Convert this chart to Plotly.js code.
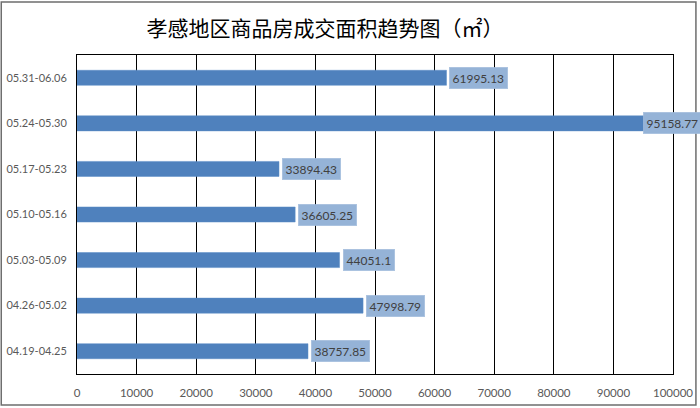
<!DOCTYPE html>
<html>
<head>
<meta charset="utf-8">
<script src="https://cdn.plot.ly/plotly-3.0.1.min.js"></script>
<style>html,body{margin:0;padding:0;background:#fff;}#chart{width:700px;height:408px;}</style>
</head>
<body>
<div id="chart"></div>
<script>
const weeks = ["04.19-04.25","04.26-05.02","05.03-05.09","05.10-05.16","05.17-05.23","05.24-05.30","05.31-06.06"];
const areas = [38757.85, 47998.79, 44051.1, 36605.25, 33894.43, 95158.77, 61995.13];
const areaLabels = ["38757.85","47998.79","44051.1","36605.25","33894.43","95158.77","61995.13"];
const xTicks = [0,10000,20000,30000,40000,50000,60000,70000,80000,90000,100000];

const trace = {
  type: 'bar',
  orientation: 'h',
  x: areas,
  y: weeks,
  marker: {color: '#4F81BD', line: {color: '#5B8CC6', width: 0.5}},
  hoverinfo: 'skip'
};

const annotations = areas.map((v, i) => ({
  x: v, y: weeks[i], xref: 'x', yref: 'y',
  text: areaLabels[i], showarrow: false,
  xanchor: 'left', yanchor: 'middle', xshift: i === 5 ? -1 : 3,
  bgcolor: '#95B3D7', borderpad: 3, bordercolor: '#A7C0DE', borderwidth: 0.5,
  font: {family: 'Lato, "Open Sans", sans-serif', size: 12, color: '#404040'}
}));

const layout = {
  width: 700, height: 408,
  margin: {l: 77, r: 27, t: 55, b: 34},
  paper_bgcolor: '#ffffff', plot_bgcolor: '#ffffff',
  showlegend: false,
  bargap: 0.67,
  title: {
    text: '孝感地区商品房成交面积趋势图（㎡）',
    x: 325/700, xanchor: 'center', xref: 'container',
    y: 1 - 29/408, yanchor: 'middle', yref: 'container',
    font: {family: '"Noto Sans CJK SC", sans-serif', size: 21, color: '#000000'}
  },
  xaxis: {
    range: [0, 100000], tickvals: xTicks, ticktext: xTicks.map(String),
    showgrid: true, gridcolor: '#000000', gridwidth: 1,
    showline: true, linecolor: '#000000', linewidth: 1, mirror: true,
    zeroline: false, ticks: '', ticklabelstandoff: 8,
    tickfont: {family: 'Lato, "Open Sans", sans-serif', size: 11.5, color: '#595959'},
    fixedrange: true
  },
  yaxis: {
    type: 'category',
    showgrid: false, showline: true, linecolor: '#000000', linewidth: 1, mirror: true,
    ticks: '', ticklabelstandoff: 7,
    tickfont: {family: 'Lato, "Open Sans", sans-serif', size: 11, color: '#595959'},
    fixedrange: true
  },
  annotations: annotations,
  shapes: [{
    type: 'rect', xref: 'paper', yref: 'paper',
    x0: -76/598, x1: 1 + 23/598, y0: -31/319, y1: 1 + 53/319,
    line: {color: '#6e6e6e', width: 1.5}, fillcolor: 'rgba(0,0,0,0)', layer: 'below'
  }]
};

Plotly.newPlot('chart', [trace], layout, {displayModeBar: false, staticPlot: true});
</script>
</body>
</html>
